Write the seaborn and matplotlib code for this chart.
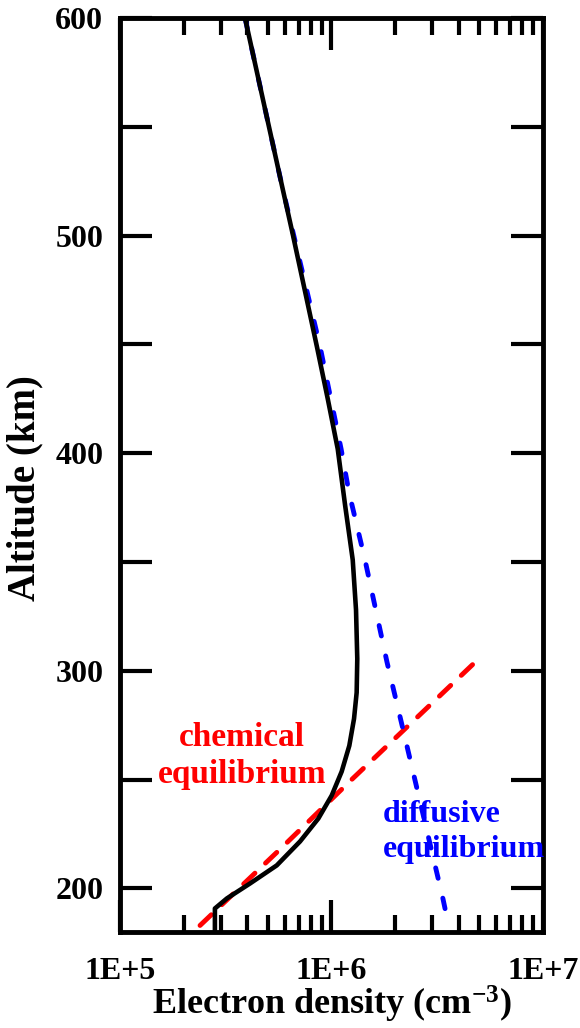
import numpy as np
import pandas as pd
import matplotlib
matplotlib.use('Agg')
import matplotlib.pyplot as plt
import matplotlib.ticker as mticker
import seaborn as sns

# Total electron density profile
alt_total = [600, 561, 523, 500, 449, 425, 402, 376, 351, 328, 305.5, 290, 278, 265.6,
             253.7, 242.7, 232.1, 221.6, 210.6, 202.3, 195.4, 190.8, 180]
ne_total = [3.90e5, 4.78e5, 5.83e5, 6.58e5, 8.53e5, 9.60e5, 1.07e6, 1.16e6, 1.26e6, 1.306e6,
            1.324e6, 1.315e6, 1.278e6, 1.214e6, 1.117e6, 1.002e6, 8.66e5, 7.10e5, 5.51e5,
            4.12e5, 3.20e5, 2.81e5, 2.81e5]

# Diffusive equilibrium (blue dashed)
alt_diff = [600, 523, 449, 402, 382, 351, 304, 273, 195, 184]
ne_diff = [3.90e5, 5.83e5, 8.83e5, 1.11e6, 1.21e6, 1.44e6, 1.83e6, 2.18e6, 3.37e6, 3.56e6]

# Chemical equilibrium (red dashed)
alt_chem = [183, 218, 250.5, 307]
ne_chem = [2.39e5, 5.71e5, 1.26e6, 5.15e6]

sns.set_style('ticks')
plt.rcParams['font.family'] = ['Liberation Serif', 'DejaVu Serif']
plt.rcParams['font.weight'] = 'bold'
plt.rcParams['text.color'] = 'black'
plt.rcParams['axes.labelcolor'] = 'black'
plt.rcParams['xtick.color'] = 'black'
plt.rcParams['ytick.color'] = 'black'
plt.rcParams['mathtext.fontset'] = 'custom'
plt.rcParams['mathtext.rm'] = 'Liberation Serif:bold'
plt.rcParams['mathtext.it'] = 'Liberation Serif:bold:italic'
plt.rcParams['mathtext.bf'] = 'Liberation Serif:bold'

fig = plt.figure(figsize=(5.8, 10.28), dpi=100)
ax = fig.add_axes([0.2069, 0.0934, 0.7293, 0.8891])

df_chem = pd.DataFrame({'ne': ne_chem, 'alt': alt_chem})
df_diff = pd.DataFrame({'ne': ne_diff, 'alt': alt_diff})
df_tot = pd.DataFrame({'ne': ne_total, 'alt': alt_total})

sns.lineplot(data=df_chem, x='ne', y='alt', sort=False, estimator=None, ax=ax,
             color='#ff0000', lw=3.5, linestyle=(0, (3.2, 3.0)), dash_capstyle='round')
sns.lineplot(data=df_diff, x='ne', y='alt', sort=False, estimator=None, ax=ax,
             color='#0000ff', lw=3.5, linestyle=(0, (2.2, 4.2)), dash_capstyle='round')
sns.lineplot(data=df_tot, x='ne', y='alt', sort=False, estimator=None, ax=ax,
             color='black', lw=3.3)

ax.set_xscale('log')
ax.set_xlim(1e5, 1e7)
ax.set_ylim(180, 600)

ax.xaxis.set_major_locator(mticker.FixedLocator([1e5, 1e6, 1e7]))
ax.xaxis.set_major_formatter(mticker.FixedFormatter(['1E+5', '1E+6', '1E+7']))
ax.xaxis.set_minor_locator(mticker.LogLocator(base=10, subs=np.arange(2, 10)))
ax.xaxis.set_minor_formatter(mticker.NullFormatter())
ax.yaxis.set_major_locator(mticker.MultipleLocator(100))
ax.yaxis.set_minor_locator(mticker.MultipleLocator(50))

ax.tick_params(axis='both', which='both', direction='in', top=True, right=True, color='black')
ax.tick_params(axis='x', which='major', length=23, width=3, labelsize=23, pad=18)
ax.tick_params(axis='x', which='minor', length=12, width=3)
ax.tick_params(axis='y', which='both', length=23, width=3, labelsize=23, pad=12)

for sp in ax.spines.values():
    sp.set_linewidth(3.5)
    sp.set_color('black')

ax.set_xlabel(r'Electron density (cm$^{\mathregular{-3}}$)', fontsize=26, fontweight='bold')
ax.set_ylabel('Altitude (km)', fontsize=28, fontweight='bold')
ax.xaxis.set_label_coords(0.5, -0.057)
ax.yaxis.set_label_coords(-0.18, 0.486)

ax.text(3.78e5, 261, 'chemical\nequilibrium', color='#ff0000', fontsize=24,
        fontweight='bold', ha='center', va='center', linespacing=1.25)
ax.text(1.75e6, 226, 'diffusive\nequilibrium', color='#0000ff', fontsize=23,
        fontweight='bold', ha='left', va='center', linespacing=1.3)

fig.savefig('out.png', dpi=100)
